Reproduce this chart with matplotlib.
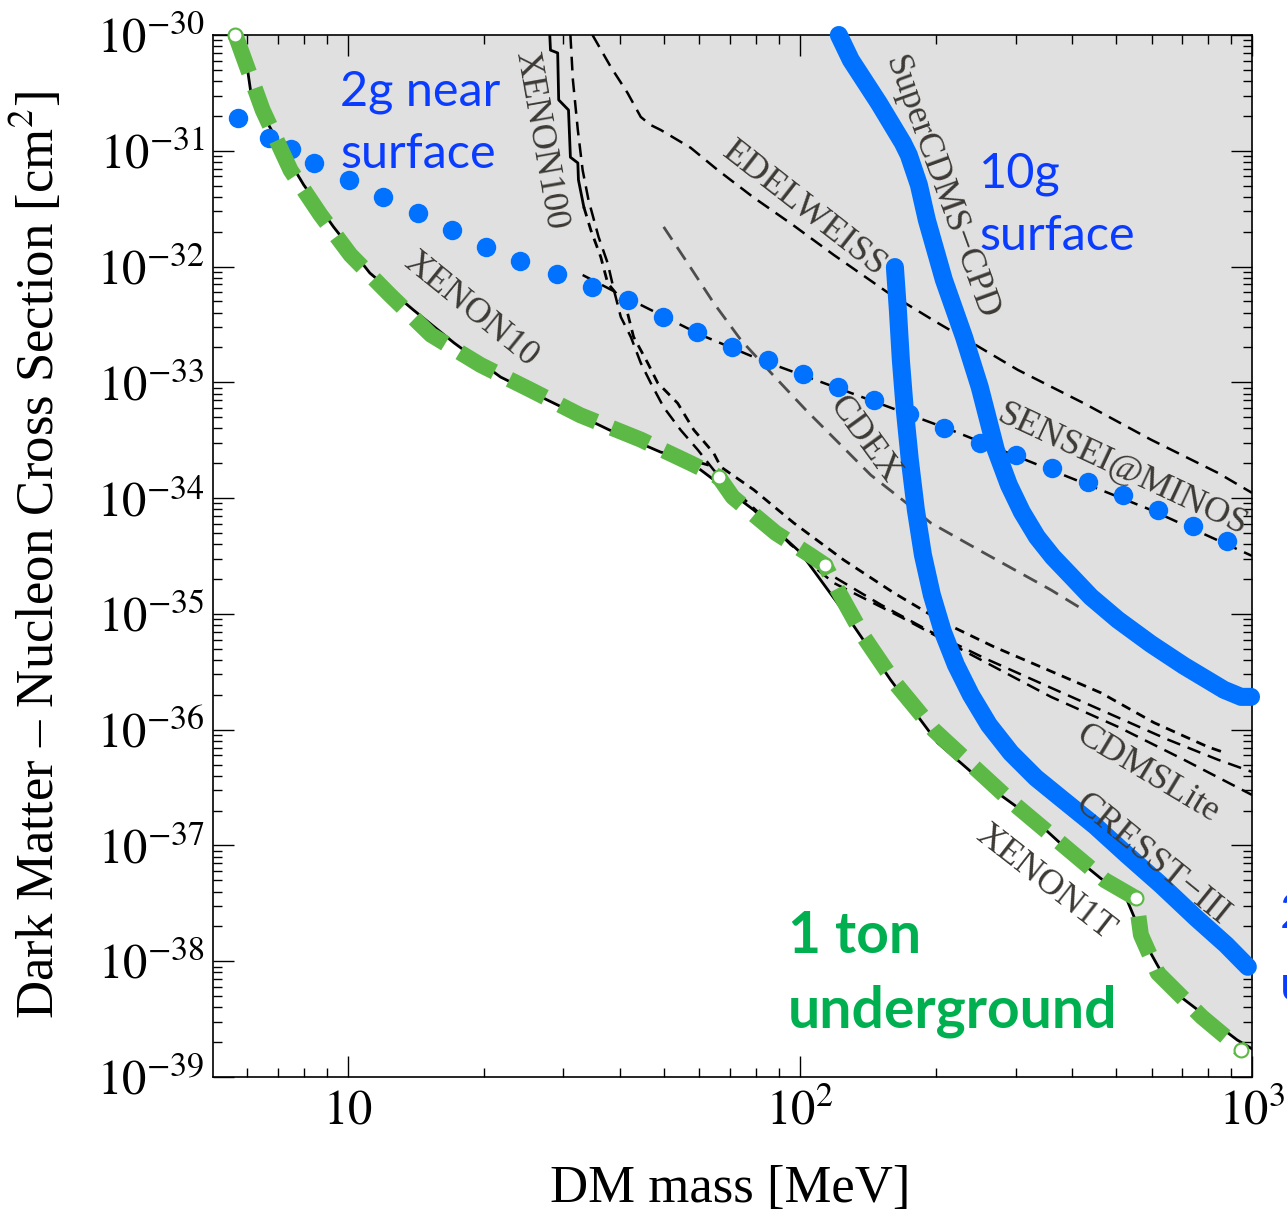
import numpy as np
import matplotlib
matplotlib.use('Agg')
import matplotlib.pyplot as plt
from matplotlib.ticker import LogLocator, NullFormatter

plt.rcParams['font.family'] = ['Liberation Serif', 'DejaVu Serif']
plt.rcParams['mathtext.fontset'] = 'stix'

# ---- data (DM mass in MeV, cross section in cm^2) ----
xenon10_m = [5.68, 6.01, 6.10, 6.59, 7.30, 8.0, 9.31, 11.2, 14.0, 17.2, 21.8, 28.6, 37.8, 49.2, 62.5]
xenon10_s = [1e-30, 5.0e-31, 3.35e-31, 1.85e-31, 9.2e-32, 5.07e-32, 2.2e-32, 8.8e-33, 4.2e-33,
             2.19e-33, 1.11e-33, 6.6e-34, 3.9e-34, 2.5e-34, 1.94e-34]

xenon1t_m = [60.4, 79.1, 100.5, 127.6, 158.8, 201.8, 255.2, 331, 418, 529, 580, 662, 927, 1000]
xenon1t_s = [1.75e-34, 7.9e-35, 3.37e-35, 9.4e-36, 2.69e-36, 7.7e-37, 3.47e-37, 1.66e-37,
             7.2e-38, 3.39e-38, 1.44e-38, 5.7e-39, 2.09e-39, 1.75e-39]

xenon100_m = [28.0, 28.1, 29.15, 29.3, 30.8, 31.1, 32.3, 32.4, 33.3]
xenon100_s = [1e-30, 7.4e-31, 7.0e-31, 2.75e-31, 2.25e-31, 8.8e-32, 7.85e-32, 5.6e-32, 3.27e-32]

# jagged continuation of the xenon100 bundle
bundle_a_m = [33.3, 34.5, 36.3, 37.6, 39.2, 41.6, 42.9, 46.1, 48.5, 53.7, 58.3, 64.5, 66.9, 79.1,
              97.0, 125.1, 161.4, 208.3, 268.7, 353.8, 463.4, 607, 799, 863]
bundle_a_s = [3.27e-32, 2.07e-32, 1.21e-32, 7.2e-33, 5.9e-33, 3.97e-33, 2.47e-33, 1.47e-33, 9.9e-34,
              6.6e-34, 3.88e-34, 2.45e-34, 1.86e-34, 1.18e-34, 6.1e-35, 2.92e-35, 1.52e-35, 8.4e-36,
              5.2e-36, 3.28e-36, 2.08e-36, 1.15e-36, 7.1e-37, 6.4e-37]

bundle_b_m = [31.1, 31.5, 32.3, 33.1, 34.1, 35.9, 37.6, 38.8, 40.2, 42.3, 44.5, 46.8, 50.0, 54.5,
              59.5, 64.5, 70.4, 82.0, 95.5, 117.1, 151.1, 194.9, 255.3, 359.3, 463.4, 652, 841, 1000]
bundle_b_s = [1e-30, 4.08e-31, 1.51e-31, 6.8e-32, 3.76e-32, 1.8e-32, 1.07e-32, 6.3e-33, 3.67e-33,
              2.47e-33, 1.47e-33, 9.9e-34, 6.1e-34, 3.88e-34, 2.61e-34, 1.75e-34, 1.25e-34, 7.2e-35,
              3.95e-35, 2.17e-35, 1.2e-35, 7.0e-36, 4.17e-36, 2.3e-36, 1.48e-36, 8.2e-37, 5.5e-37, 4.32e-37]

cdmslite_m = [100.5, 118.9, 167.3, 235.3, 359.3, 505, 707, 1000]
cdmslite_s = [3.17e-35, 1.85e-35, 9.4e-36, 4.6e-36, 1.92e-36, 1.06e-36, 5.5e-37, 2.73e-37]

edelweiss_m = [34.8, 38.2, 41.6, 44.5, 46.8, 49.3, 57.4, 65.9, 78.7, 96.5, 118.9, 155.8, 200, 245,
               303.6, 424.6, 597.6, 841, 1000]
edelweiss_s = [1e-30, 5.3e-31, 3.16e-31, 1.96e-31, 1.67e-31, 1.51e-31, 1.06e-31, 6.8e-32, 4.0e-32,
               2.29e-32, 1.26e-32, 6.04e-33, 3.33e-33, 2.1e-33, 1.28e-33, 6.6e-34, 3.2e-34, 1.65e-34,
               1.11e-34]

cdex_m = [50.0, 56.5, 64.5, 74.1, 87.2, 103.1, 123.2, 143.6, 169, 194.9, 255.3, 359.3, 424.6]
cdex_s = [2.2e-32, 1.07e-32, 4.85e-33, 2.32e-33, 1.16e-33, 5.78e-34, 2.88e-34, 1.58e-34, 9.6e-35,
          6.1e-35, 3.37e-35, 1.61e-35, 1.08e-35]

sensei_m = [33.1, 42.3, 60.4, 82.0, 129.7, 215.8, 359, 598, 1000]
sensei_s = [8.45e-33, 5.15e-33, 2.57e-33, 1.56e-33, 8.1e-34, 3.88e-34, 1.75e-34, 7.9e-35, 3.17e-35]

# projections drawn on top
near_m = [5.71, 6.72, 7.48, 8.45, 10.05, 11.95, 14.28, 16.98, 20.2, 24.1, 29.0, 34.8, 41.6, 49.8,
          59.2, 70.7, 85.0, 101.5, 121.3, 145.8, 174.2, 208.3, 250.1, 300.6, 361, 434, 518, 619, 741, 880]
near_s = [1.92e-31, 1.29e-31, 1.04e-31, 7.85e-32, 5.6e-32, 3.99e-32, 2.9e-32, 2.07e-32, 1.48e-32,
          1.12e-32, 8.6e-33, 6.7e-33, 5.15e-33, 3.67e-33, 2.72e-33, 2.02e-33, 1.56e-33, 1.18e-33,
          9.1e-34, 7.05e-34, 5.33e-34, 4.04e-34, 3.0e-34, 2.36e-34, 1.82e-34, 1.38e-34, 1.07e-34,
          7.9e-35, 5.75e-35, 4.27e-35]

surface10_m = [122, 129.7, 149.5, 169.0, 174.2, 183.4, 191, 208.3, 230.7, 250, 271.4, 290, 309.8,
               334.5, 362.8, 397.7, 440.4, 505, 597.6, 707.3, 867, 946, 995]
surface10_s = [1e-30, 6.08e-31, 2.59e-31, 1.17e-31, 9.2e-32, 5.07e-32, 2.52e-32, 7.66e-33, 2.47e-33,
               9.1e-34, 2.61e-34, 1.3e-34, 7.6e-35, 4.62e-35, 3.1e-35, 2.13e-35, 1.4e-35, 8.9e-36,
               5.5e-36, 3.56e-36, 2.21e-36, 1.92e-36, 1.92e-36]

under2_m = [162.3, 164.8, 167.3, 170.7, 175.1, 180.6, 187.2, 195.9, 207.2, 221.4, 238.9, 261.9, 293,
            332.7, 381.8, 449.5, 529, 629, 751.7, 876, 979]
under2_s = [9.9e-33, 4.2e-33, 1.56e-33, 5.78e-34, 2.14e-34, 7.9e-35, 3.23e-35, 1.46e-35, 7.0e-36,
            3.63e-36, 2.0e-36, 1.1e-36, 6.3e-37, 3.84e-37, 2.48e-37, 1.48e-37, 8.3e-38, 4.57e-38,
            2.37e-38, 1.39e-38, 8.95e-39]

ton_m = [5.65, 6.49, 7.48, 8.71, 10.15, 12.4, 15.3, 19.7, 25.4, 32.7, 44.5, 57.4, 66.2, 71.1, 88.5,
         105.7, 113.6, 121.3, 138.6, 162.3, 197.8, 242.5, 296, 370, 473, 554, 568, 619, 775, 946]
ton_s = [1e-30, 2.25e-31, 6.8e-32, 2.8e-32, 1.26e-32, 5.7e-33, 2.57e-33, 1.41e-33, 8.6e-34, 5.2e-34,
         3.2e-34, 2.0e-34, 1.52e-34, 1.02e-34, 5.0e-35, 3.2e-35, 2.65e-35, 1.61e-35, 6.3e-36,
         2.54e-36, 9.95e-37, 4.77e-37, 2.33e-37, 1.12e-37, 5.0e-38, 3.5e-38, 1.69e-38, 7.9e-39,
         3.3e-39, 1.72e-39]

x_ticks = [10, 100, 1000]
x_ticklabels = ['$10$', '$10^{2}$', '$10^{3}$']
y_exponents = list(range(-39, -29))
y_ticklabels = ['$10^{%d}$' % k for k in y_exponents]

W, H = 1287, 1215


def pos(x, y):
    # pixel position -> figure fraction
    return x / W, 1 - y / H


blue = '#0072ff'
text_blue = '#0a3cff'
green = '#5cb946'
label_col = '#3d3a36'

fig = plt.figure(figsize=(W / 100, H / 100), dpi=100)
ax = fig.add_axes([213 / W, 1 - 1077 / H, (1252 - 213) / W, (1077 - 35) / H])
ax.set_xscale('log')
ax.set_yscale('log')
ax.set_xlim(5.04, 1000)
ax.set_ylim(1e-39, 1e-30)

# excluded region
env_m = np.concatenate([xenon10_m[:-1], xenon1t_m])
env_s = np.concatenate([xenon10_s[:-1], xenon1t_s])
ax.fill_between(env_m, env_s, 1e-30, color='#e0e0e0', lw=0, zorder=0)

ax.plot(xenon10_m, xenon10_s, color='k', lw=2, zorder=2)
ax.plot(xenon1t_m, xenon1t_s, color='k', lw=2, zorder=2)
ax.plot(xenon100_m, xenon100_s, color='k', lw=2, zorder=2)
ax.plot(bundle_a_m, bundle_a_s, color='k', lw=2, dashes=(3.5, 2.5), zorder=2)
ax.plot(bundle_b_m, bundle_b_s, color='k', lw=1.8, dashes=(5.5, 3.2), zorder=2)
ax.plot(cdmslite_m, cdmslite_s, color='k', lw=1.8, dashes=(5.5, 3.2), zorder=2)
ax.plot(edelweiss_m, edelweiss_s, color='k', lw=1.8, dashes=(5.5, 3.2), zorder=2)
ax.plot(sensei_m, sensei_s, color='k', lw=1.8, dashes=(5.5, 3.2), zorder=2)
ax.plot(cdex_m, cdex_s, color='#4d4d4d', lw=2, dashes=(5.5, 3.2), zorder=2)

# experiment labels
labels = [('XENON100', 540, 140, -80), ('XENON10', 471, 310, -39), ('EDELWEISS', 804, 209, -38),
          ('SuperCDMS\u2212CPD', 941, 188, -70), ('CDEX', 864, 440, -54),
          ('SENSEI@MINOS', 1122, 470, -25), ('CDMSLite', 1148, 774, -31),
          ('CRESST\u2212III', 1152, 860, -39), ('XENON1T', 1045, 883, -38)]
for txt, px, py, rot in labels:
    fig.text(*pos(px, py), txt, rotation=rot, ha='center', va='center', fontsize=26,
             color=label_col, rotation_mode='anchor')

# projected sensitivities
ax.plot(near_m, near_s, 'o', color=blue, ms=14, mew=0, zorder=5)
ax.plot(surface10_m, surface10_s, color=blue, lw=13, solid_capstyle='round',
        solid_joinstyle='round', zorder=6, clip_on=False)
ax.plot(under2_m, under2_s, color=blue, lw=13, solid_capstyle='round',
        solid_joinstyle='round', zorder=6, clip_on=False)
ax.plot(ton_m, ton_s, color=green, lw=11.5, dashes=(2.5, 1.05), dash_capstyle='butt', zorder=7,
        marker='o', markevery=[0, 12, 16, 25, 29], ms=10, mfc='white', mec=green, mew=1.5,
        clip_on=False)

fig.text(*pos(340, 105), '2g near', fontsize=35, color=text_blue, family='Lato', va='baseline')
fig.text(*pos(340, 168), 'surface', fontsize=35, color=text_blue, family='Lato', va='baseline')
fig.text(*pos(979, 187), '10g', fontsize=35, color=text_blue, family='Lato', va='baseline')
fig.text(*pos(979, 250), 'surface', fontsize=35, color=text_blue, family='Lato', va='baseline')
fig.text(*pos(1280, 927), '2g', fontsize=35, color=text_blue, family='Lato', va='baseline')
fig.text(*pos(1280, 1000), 'underground', fontsize=35, color=text_blue, family='Lato', va='baseline')
fig.text(*pos(788, 953), '1 ton', fontsize=41, color='#00b050', family='Lato', weight='bold',
         va='baseline')
fig.text(*pos(788, 1028), 'underground', fontsize=41, color='#00b050', family='Lato',
         weight='bold', va='baseline')

# axes, ticks
ax.set_xticks(x_ticks)
ax.set_xticklabels(x_ticklabels)
ax.set_yticks([10.0 ** k for k in y_exponents])
ax.set_yticklabels(y_ticklabels)
ax.xaxis.set_minor_locator(LogLocator(base=10, subs=np.arange(2, 10), numticks=100))
ax.yaxis.set_minor_locator(LogLocator(base=10, subs=np.arange(2, 10), numticks=100))
ax.xaxis.set_minor_formatter(NullFormatter())
ax.yaxis.set_minor_formatter(NullFormatter())
ax.tick_params(which='both', direction='in', top=True, right=True, width=1)
ax.tick_params(which='major', length=15, labelsize=35, pad=6)
ax.tick_params(which='minor', length=6.5)
ax.tick_params(axis='x', which='major', pad=9)
for sp in ax.spines.values():
    sp.set_linewidth(1.2)

fig.text(*pos(730, 1189), 'DM mass [MeV]', fontsize=38, ha='center', va='center')
fig.text(*pos(37, 555), 'Dark Matter \u2013 Nucleon Cross Section [cm$^2$]', fontsize=38,
         rotation=90, ha='center', va='center')

fig.savefig('out.png', dpi=100, facecolor='white')
